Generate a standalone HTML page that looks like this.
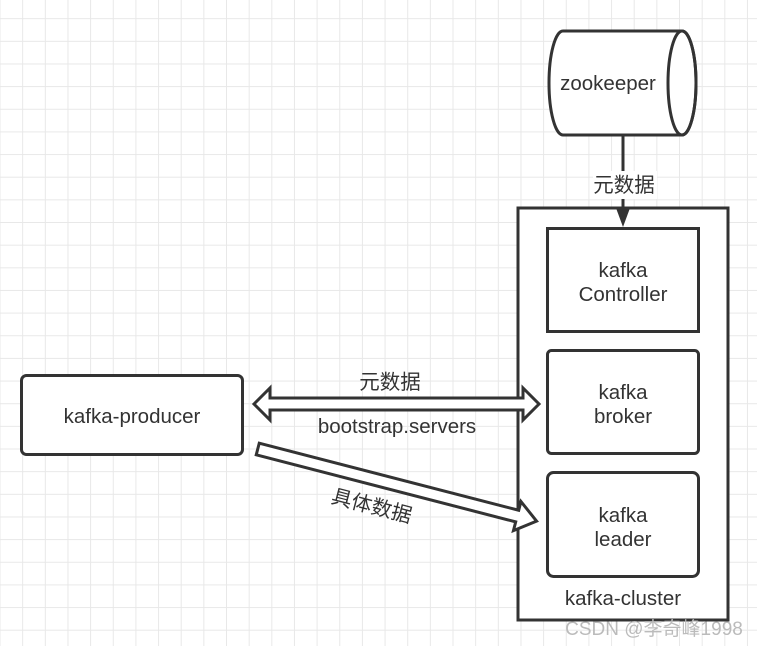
<!DOCTYPE html>
<html><head><meta charset="utf-8"><style>
html,body{margin:0;padding:0;background:#fff;}
svg{display:block;}
text{font-family:"Liberation Sans","Noto Sans CJK SC",sans-serif;fill:#333;font-size:20.5px;text-anchor:middle;}
</style></head><body>
<svg width="757" height="646" viewBox="0 0 757 646" xmlns="http://www.w3.org/2000/svg">
<defs>
<pattern id="g" x="0.5" y="-3.5" width="22.65" height="22.65" patternUnits="userSpaceOnUse">
<path d="M22.65 0V22.65M0 22.65H22.65" stroke="#e8e8e8" stroke-width="2" fill="none"/>
</pattern>
</defs>
<rect width="757" height="646" fill="url(#g)"/>
<path d="M563 31 H682 A14 52 0 0 1 682 135 H563 A14 52 0 0 1 563 31 Z" fill="#fff" stroke="#333" stroke-width="3"/>
<ellipse cx="682" cy="83" rx="14" ry="52" fill="none" stroke="#333" stroke-width="3"/>
<text x="608" y="90">zookeeper</text>
<line x1="623" y1="135" x2="623" y2="212" stroke="#333" stroke-width="3"/>
<rect x="593" y="171" width="64" height="28" fill="#fff"/>
<text x="624" y="192">元数据</text>
<rect x="518" y="208" width="210" height="412" fill="#fff" stroke="#333" stroke-width="3"/>
<polygon points="616,208 630,208 623,227" fill="#333"/>
<rect x="547.5" y="228.5" width="151" height="103" fill="#fff" stroke="#333" stroke-width="3"/>
<text x="623" y="277">kafka</text><text x="623" y="301">Controller</text>
<rect x="547.5" y="350.5" width="151" height="103" rx="4" fill="#fff" stroke="#333" stroke-width="3"/>
<text x="623" y="399">kafka</text><text x="623" y="423">broker</text>
<rect x="547.5" y="472.5" width="151" height="104" rx="6" fill="#fff" stroke="#333" stroke-width="3"/>
<text x="623" y="522">kafka</text><text x="623" y="546">leader</text>
<text x="623" y="605">kafka-cluster</text>
<rect x="21.5" y="375.5" width="221" height="79" rx="5" fill="#fff" stroke="#333" stroke-width="3"/>
<text x="132" y="423">kafka-producer</text>
<path d="M254 404 L270 388 L270 398 L523 398 L523 388 L539 404 L523 420 L523 410 L270 410 L270 420 Z" fill="#fff" stroke="#333" stroke-width="3"/>
<text x="390" y="389">元数据</text>
<text x="397" y="433">bootstrap.servers</text>
<g transform="translate(258,448) rotate(14.5)">
<path d="M0 -5 L268 -5 L268 -14 L288 1 L268 16 L268 7 L0 7 Z" fill="#fff" stroke="#333" stroke-width="3"/>
</g>
<text x="372" y="513" transform="rotate(14.5 372 505)">具体数据</text>
<text x="654" y="635" style="fill:#bbb;font-size:19px">CSDN @李奇峰1998</text>
</svg>
</body></html>
